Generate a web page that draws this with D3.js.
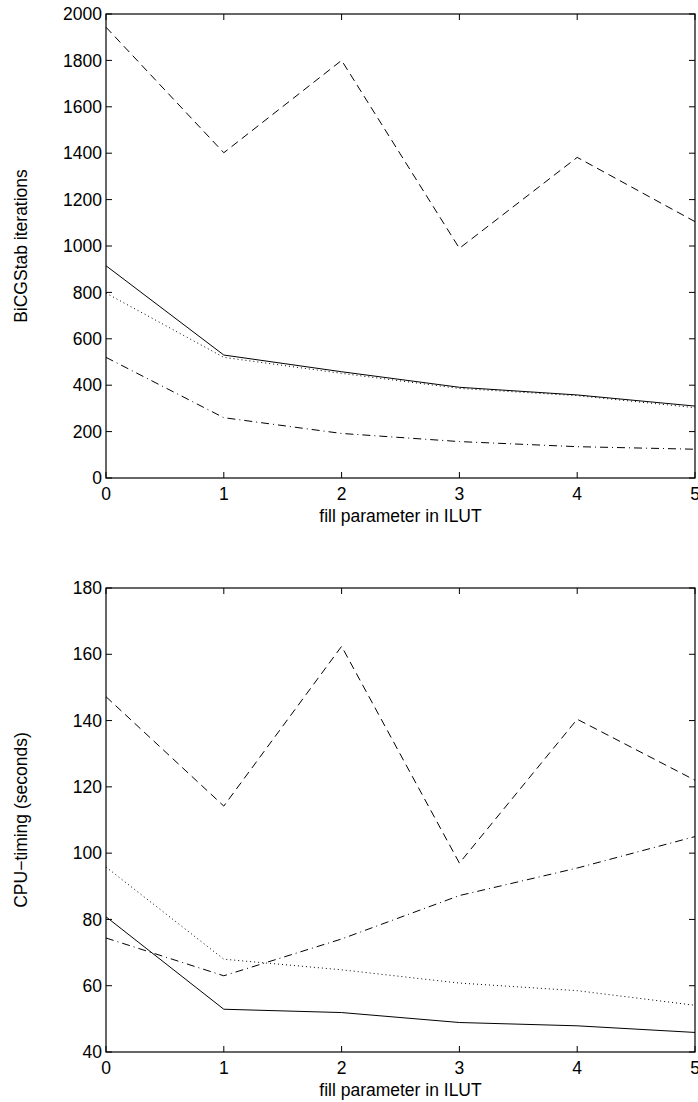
<!DOCTYPE html>
<html>
<head>
<meta charset="utf-8">
<title>ILUT fill parameter</title>
<script src="https://cdn.jsdelivr.net/npm/d3@7"></script>
<style>
  body { margin: 0; background: #fff; }
  svg text { font-family: "Liberation Sans", Arial, Helvetica, sans-serif; font-size: 17.5px; fill: #000; }
  .frame { fill: none; stroke: #000; stroke-width: 1.2; }
  .tick { stroke: #000; stroke-width: 1; }
  .series { fill: none; stroke: #000; stroke-width: 1; }
</style>
</head>
<body>
<script>
// fill parameter values (x)
var fill = [0, 1, 2, 3, 4, 5];

// top panel: BiCGStab iterations
var itDashed  = [1943, 1402, 1800, 990, 1382, 1105];
var itSolid   = [915, 530, 458, 391, 358, 310];
var itDotted  = [797, 520, 451, 386, 355, 303];
var itDashDot = [520, 260, 192, 157, 135, 124];

// bottom panel: CPU timing (seconds)
var cpuDashed  = [147.2, 114.2, 162.4, 97, 140.4, 122];
var cpuSolid   = [80.8, 52.9, 51.9, 48.9, 47.9, 45.9];
var cpuDotted  = [95.8, 68, 64.8, 60.8, 58.5, 54.1];
var cpuDashDot = [74.4, 63, 74.1, 87.2, 95.5, 105];

var xTicks = [0, 1, 2, 3, 4, 5];
var itTicks = d3.range(0, 2001, 200);
var cpuTicks = d3.range(40, 181, 20);

var W = 698, H = 1102;
var svg = d3.select("body").append("svg").attr("width", W).attr("height", H);

var styles = { solid: null, dashed: "8,5", dotted: "1,3", dashdot: "8,4,1,4" };

function panel(top, bottom, yDomain, yTicks, yLabel, series) {
  var x = d3.scaleLinear().domain([0, 5]).range([106, 695]);
  var y = d3.scaleLinear().domain(yDomain).range([bottom, top]);
  var g = svg.append("g");
  var tl = 6;

  // ticks on all four sides, pointing inward
  g.selectAll("line.xb").data(xTicks).enter().append("line").attr("class", "tick")
    .attr("x1", d => x(d)).attr("x2", d => x(d)).attr("y1", bottom).attr("y2", bottom - tl);
  g.selectAll("line.xt").data(xTicks).enter().append("line").attr("class", "tick")
    .attr("x1", d => x(d)).attr("x2", d => x(d)).attr("y1", top).attr("y2", top + tl);
  g.selectAll("line.yl").data(yTicks).enter().append("line").attr("class", "tick")
    .attr("x1", x(0)).attr("x2", x(0) + tl).attr("y1", d => y(d)).attr("y2", d => y(d));
  g.selectAll("line.yr").data(yTicks).enter().append("line").attr("class", "tick")
    .attr("x1", x(5)).attr("x2", x(5) - tl).attr("y1", d => y(d)).attr("y2", d => y(d));

  g.append("rect").attr("class", "frame")
    .attr("x", x(0)).attr("y", top).attr("width", x(5) - x(0)).attr("height", bottom - top);

  // tick labels
  g.selectAll("text.xl").data(xTicks).enter().append("text")
    .attr("x", d => x(d)).attr("y", bottom + 22).attr("text-anchor", "middle").text(d => d);
  g.selectAll("text.yl").data(yTicks).enter().append("text")
    .attr("x", x(0) - 4).attr("y", d => y(d)).attr("dy", "0.35em")
    .attr("text-anchor", "end").text(d => d);

  // axis titles
  g.append("text").attr("x", (x(0) + x(5)) / 2).attr("y", bottom + 44)
    .attr("text-anchor", "middle").text("fill parameter in ILUT");
  g.append("text")
    .attr("transform", "translate(27," + (top + bottom) / 2 + ") rotate(-90)")
    .attr("text-anchor", "middle").text(yLabel);

  var line = d3.line().x((d, i) => x(fill[i])).y(d => y(d));
  series.forEach(function (s) {
    g.append("path").attr("class", "series")
      .attr("d", line(s.values))
      .attr("stroke-dasharray", styles[s.style]);
  });
}

panel(14, 478, [0, 2000], itTicks, "BiCGStab iterations", [
  { values: itDashed, style: "dashed" },
  { values: itSolid, style: "solid" },
  { values: itDotted, style: "dotted" },
  { values: itDashDot, style: "dashdot" }
]);

panel(588, 1052, [40, 180], cpuTicks, "CPU\u2212timing (seconds)", [
  { values: cpuDashed, style: "dashed" },
  { values: cpuSolid, style: "solid" },
  { values: cpuDotted, style: "dotted" },
  { values: cpuDashDot, style: "dashdot" }
]);
</script>
</body>
</html>
